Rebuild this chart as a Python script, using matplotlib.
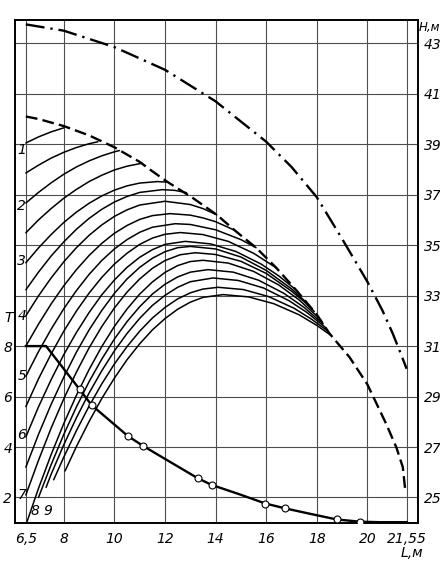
import matplotlib.pyplot as plt

# reach L (m) grid / tick values, hook height H (m) grid values
x_ticks = [6.5, 8, 10, 12, 14, 16, 18, 20, 21.55]
x_labels = ["6,5", "8", "10", "12", "14", "16", "18", "20", "21,55"]
h_ticks = [25, 27, 29, 31, 33, 35, 37, 39, 41, 43]
q_ticks = [2, 4, 6, 8]

# upper boundary (dash-dot) and jib envelope (dashed), H vs L
dashdot_L = [6.5, 8.0, 10.0, 12.0, 14.0, 16.0, 17.0, 18.0, 19.0, 20.0, 20.6, 21.0, 21.3, 21.55]
dashdot_H = [43.75, 43.5, 42.85, 41.95, 40.7, 39.1, 38.1, 36.9, 35.25, 33.55, 32.4, 31.5, 30.75, 30.1]

dashed_L = [6.5, 7.0, 8.0, 9.0, 10.0, 11.0, 11.4, 12.06, 13.1, 14.05, 14.8, 15.6, 16.4, 17.2,
            18.0, 18.5, 19.3, 20.0, 20.75, 21.15, 21.4, 21.5]
dashed_H = [40.1, 40.0, 39.72, 39.35, 38.88, 38.3, 38.0, 37.53, 36.87, 36.2, 35.55, 34.9, 34.1, 33.2,
            32.25, 31.5, 30.55, 29.48, 27.9, 26.97, 26.2, 25.25]

# load curve Q (t) vs L, left scale
load_L = [6.5, 7.3, 8.63, 9.1, 10.54, 11.14, 11.93, 13.3, 13.84, 14.96, 15.97, 16.74, 17.7,
          18.78, 19.7, 20.5, 21.55]
load_Q = [8.0, 8.0, 6.28, 5.66, 4.43, 4.04, 3.57, 2.76, 2.5, 2.12, 1.76, 1.57, 1.36,
          1.13, 1.04, 1.02, 1.02]
marker_L = [8.63, 9.1, 10.54, 11.14, 13.3, 13.84, 15.97, 16.74, 18.78, 19.7]
marker_Q = [6.28, 5.66, 4.43, 4.04, 2.76, 2.5, 1.76, 1.57, 1.13, 1.04]

# family of hook paths (L, H)
curve_01 = [(6.5, 39.05), (7.0, 39.29), (7.5, 39.49), (8.0, 39.65)]
curve_02 = [(6.5, 37.86), (7.0, 38.17), (7.5, 38.45), (8.0, 38.68), (8.5, 38.87), (9.0, 39.02), (9.35, 39.1)]
curve_03 = [(6.5, 36.67), (7.0, 37.09), (7.5, 37.47), (8.0, 37.81), (8.5, 38.1), (9.0, 38.34), (9.5, 38.54),
            (10.0, 38.7), (10.2, 38.75)]
curve_04 = [(6.5, 35.49), (7.0, 36.0), (7.5, 36.45), (8.0, 36.86), (8.5, 37.21), (9.0, 37.52), (9.5, 37.77),
            (10.0, 37.98), (10.5, 38.13), (11.1, 38.25)]
curve_05 = [(6.5, 34.3), (7.0, 34.89), (7.5, 35.42), (8.0, 35.9), (8.5, 36.31), (9.0, 36.66), (9.5, 36.95),
            (10.0, 37.18), (10.5, 37.35), (11.0, 37.46), (11.7, 37.52), (12.06, 37.5)]
curve_06 = [(6.5, 33.23), (7.0, 33.93), (7.5, 34.57), (8.0, 35.13), (8.5, 35.63), (9.0, 36.06), (9.5, 36.42),
            (10.0, 36.71), (10.5, 36.93), (11.0, 37.09), (11.9, 37.2), (12.4, 37.17), (12.85, 37.08)]
curve_07 = [(6.5, 32.2), (7.0, 32.99), (7.5, 33.7), (8.0, 34.34), (8.5, 34.9), (9.0, 35.39), (9.5, 35.8),
            (10.0, 36.14), (10.5, 36.4), (11.0, 36.59), (12.0, 36.74), (13.0, 36.61), (13.5, 36.45), (14.05, 36.2)]
curve_08 = [(6.5, 31.0), (7.0, 31.87), (7.5, 32.67), (8.0, 33.39), (8.5, 34.03), (9.0, 34.59), (9.5, 35.07),
            (10.0, 35.47), (10.5, 35.78), (11.0, 36.02), (11.5, 36.17), (12.2, 36.25), (13.0, 36.19),
            (13.5, 36.08), (14.0, 35.93), (14.8, 35.57)]
curve_09 = [(6.5, 29.8), (7.0, 30.78), (7.5, 31.67), (8.0, 32.48), (8.5, 33.2), (9.0, 33.84), (9.5, 34.39),
            (10.0, 34.85), (10.5, 35.22), (11.0, 35.51), (11.5, 35.71), (12.4, 35.85), (13.0, 35.82),
            (14.0, 35.61), (15.0, 35.22), (15.6, 34.9)]
curve_10 = [(6.5, 28.6), (7.0, 29.7), (7.5, 30.69), (8.0, 31.59), (8.5, 32.39), (9.0, 33.1), (9.5, 33.72),
            (10.0, 34.25), (10.5, 34.68), (11.0, 35.03), (11.5, 35.28), (12.0, 35.43), (12.6, 35.5),
            (13.5, 35.42), (14.5, 35.15), (15.5, 34.68), (16.4, 34.1)]
curve_11 = [(6.5, 27.4), (7.0, 28.59), (7.5, 29.67), (8.0, 30.66), (8.5, 31.54), (9.0, 32.33), (9.5, 33.03),
            (10.0, 33.62), (10.5, 34.12), (11.0, 34.52), (11.5, 34.82), (12.0, 35.03), (12.8, 35.15),
            (13.8, 35.05), (14.8, 34.75), (15.8, 34.25), (16.5, 33.78), (17.2, 33.21)]
curve_12 = [(6.5, 26.2), (7.0, 27.5), (7.5, 28.69), (8.0, 29.77), (8.5, 30.76), (9.0, 31.64), (9.5, 32.41),
            (10.0, 33.09), (10.5, 33.66), (11.0, 34.12), (11.5, 34.48), (12.0, 34.74), (12.5, 34.9),
            (13.0, 34.95), (14.0, 34.85), (15.0, 34.53), (16.0, 34.0), (17.0, 33.27), (17.6, 32.72)]
curve_13 = [(6.5, 25.1), (7.0, 26.47), (7.5, 27.75), (8.0, 28.91), (8.5, 29.97), (9.0, 30.93), (9.5, 31.77),
            (10.0, 32.51), (10.5, 33.14), (11.0, 33.66), (11.5, 34.08), (12.0, 34.39), (12.6, 34.62),
            (13.2, 34.7), (14.0, 34.63), (15.0, 34.36), (16.0, 33.88), (17.0, 33.18), (17.5, 32.76),
            (17.9, 32.37)]
curve_14 = [(6.55, 24.05), (7.0, 25.36), (7.5, 26.7), (8.0, 27.93), (8.5, 29.05), (9.0, 30.07), (9.5, 30.98),
            (10.0, 31.78), (10.5, 32.47), (11.0, 33.06), (11.5, 33.54), (12.0, 33.92), (12.5, 34.19),
            (13.0, 34.35), (13.5, 34.4), (14.5, 34.29), (15.5, 33.96), (16.5, 33.42), (17.3, 32.83),
            (18.1, 32.1)]
curve_15 = [(7.0, 25.0), (7.5, 26.3), (8.0, 27.5), (8.5, 28.59), (9.0, 29.59), (9.5, 30.48), (10.0, 31.28),
            (10.5, 31.97), (11.0, 32.56), (11.5, 33.06), (12.0, 33.45), (12.5, 33.74), (13.0, 33.93),
            (13.7, 34.03), (14.7, 33.93), (15.7, 33.61), (16.7, 33.09), (17.5, 32.53), (18.25, 31.88)]
curve_16 = [(7.3, 25.4), (7.5, 25.92), (8.0, 27.09), (8.5, 28.16), (9.0, 29.14), (9.5, 30.02), (10.0, 30.81),
            (10.5, 31.5), (11.0, 32.1), (11.5, 32.61), (12.0, 33.01), (12.5, 33.33), (13.0, 33.55),
            (13.9, 33.7), (14.9, 33.6), (15.9, 33.3), (16.9, 32.8), (17.6, 32.34), (18.35, 31.73)]
curve_17 = [(7.6, 25.7), (8.0, 26.6), (8.5, 27.65), (9.0, 28.62), (9.5, 29.5), (10.0, 30.29), (10.5, 30.98),
            (11.0, 31.59), (11.5, 32.11), (12.0, 32.53), (12.5, 32.87), (13.0, 33.11), (13.5, 33.26),
            (14.1, 33.33), (15.1, 33.24), (16.1, 32.96), (17.1, 32.5), (17.8, 32.06), (18.45, 31.58)]
curve_18 = [(8.05, 26.05), (8.5, 27.02), (9.0, 28.01), (9.5, 28.92), (10.0, 29.73), (10.5, 30.46),
            (11.0, 31.09), (11.5, 31.64), (12.0, 32.09), (12.5, 32.46), (13.0, 32.74), (13.5, 32.93),
            (14.3, 33.04), (15.3, 32.95), (16.3, 32.68), (17.3, 32.24), (18.0, 31.82), (18.55, 31.43)]

hook_curves = [curve_01, curve_02, curve_03, curve_04, curve_05, curve_06, curve_07, curve_08, curve_09,
               curve_10, curve_11, curve_12, curve_13, curve_14, curve_15, curve_16, curve_17, curve_18]

# curve numbers written beside the curves
curve_numbers = ["1", "2", "3", "4", "5", "6", "7", "8", "9"]
number_L = [6.34, 6.34, 6.34, 6.34, 6.34, 6.34, 6.34, 6.86, 7.37]
number_H = [38.77, 36.55, 34.38, 32.2, 29.82, 27.49, 25.11, 24.48, 24.48]

plt.rcParams["font.family"] = ["DejaVu Sans"]

fig = plt.figure(figsize=(4.4, 5.66), dpi=100)
ax = fig.add_axes([0.034, 0.0765, 0.916, 0.888])
# twin axis for the load scale (made first: twinx moves the parent's ticks to the left)
ax2 = ax.twinx()

ax.set_xlim(6.07, 22.0)
ax.set_ylim(24.0, 43.92)

# grid and tick labels
ax.set_xticks(x_ticks)
ax.set_xticklabels(x_labels, fontstyle="italic", fontsize=10)
ax.set_yticks(h_ticks)
ax.set_yticklabels([str(h) for h in h_ticks], fontstyle="italic", fontsize=10)
ax.yaxis.tick_right()
ax.tick_params(length=0)
ax.tick_params(axis="x", pad=7)
ax.tick_params(axis="y", pad=4)
ax.grid(True, color="0.3", lw=0.8)
ax.set_axisbelow(True)
for s in ax.spines.values():
    s.set_linewidth(1.4)

# hook paths
for c in hook_curves:
    ax.plot([p[0] for p in c], [p[1] for p in c], color="black", lw=1.1, solid_capstyle="round")

ax.plot(dashed_L, dashed_H, color="black", lw=1.7, linestyle=(0, (5, 2.2)))
ax.plot(dashdot_L, dashdot_H, color="black", lw=1.7, linestyle=(0, (8, 2.5, 1, 2.5)))

for t, x, y in zip(curve_numbers, number_L, number_H):
    ax.text(x, y, t, fontsize=10, fontstyle="italic", ha="center", va="center")

# load scale on the left
ax2.set_ylim(1.0, 20.92)
ax2.yaxis.tick_left()
ax2.set_yticks(q_ticks)
ax2.set_yticklabels([str(q) for q in q_ticks], fontstyle="italic", fontsize=10)
ax2.tick_params(length=0, pad=2)
for s in ax2.spines.values():
    s.set_visible(False)

ax2.plot(load_L, load_Q, color="black", lw=1.7)
ax2.plot(marker_L, marker_Q, linestyle="none", marker="o", markersize=5,
         markerfacecolor="white", markeredgecolor="black", markeredgewidth=0.8)

fig.text(419 / 440, 1 - 27 / 566, "H,м", fontsize=8.5, fontstyle="italic", va="center")
fig.text(412 / 440, 1 - 553 / 566, "L,м", fontsize=10, fontstyle="italic", ha="center", va="center")
fig.text(4 / 440, 1 - 318 / 566, "T", fontsize=10, fontstyle="italic", va="center")

fig.savefig("out.png", dpi=100)
